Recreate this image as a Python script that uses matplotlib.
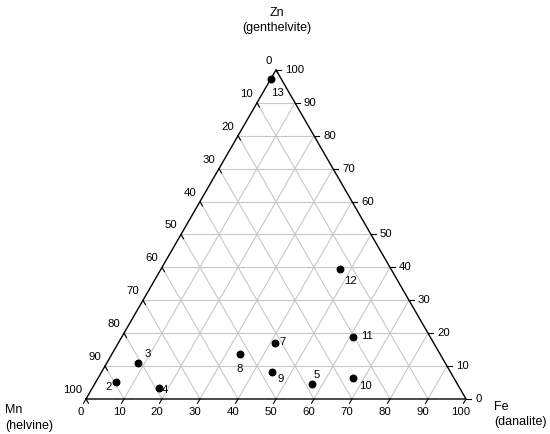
import numpy as np
import matplotlib
matplotlib.use('Agg')
import matplotlib.pyplot as plt

plt.rcParams['font.family'] = ['Liberation Sans', 'DejaVu Sans']

# Sample compositions (mol %)
samples = ['2', '3', '4', '5', '7', '8', '9', '10', '11', '12', '13']
fe = [5.3, 8.2, 17.6, 57.2, 41.2, 33.7, 44.8, 67.1, 60.9, 47.1, 0.0]
zn = [5.2, 10.9, 3.3, 4.6, 17.0, 13.7, 8.2, 6.4, 18.8, 39.5, 97.3]
mn = [89.5, 80.9, 79.1, 38.2, 41.8, 52.6, 47.0, 26.5, 20.3, 13.4, 2.7]

ticks = list(range(0, 101, 10))

# label offsets in pixels (dx right, dy down)
label_off = {'2': (-7, 5), '3': (10, -9), '4': (6, 2), '5': (5, -9), '7': (8, -1),
             '8': (0, 15), '9': (9, 7), '10': (12, 8), '11': (14, -1),
             '12': (10, 12), '13': (7, 14)}

H = np.sqrt(3) / 2


def tern(f, z):
    f = np.asarray(f, dtype=float)
    z = np.asarray(z, dtype=float)
    return f + z / 2, z * H


fig = plt.figure(figsize=(5.5, 4.34), dpi=100)
ax = fig.add_axes([0, 0, 1, 1])
sc = 3.8  # pixels per percent
ax.set_xlim(-86 / sc, (550 - 86) / sc)
ax.set_ylim(-35 / sc, (434 - 35) / sc)
ax.axis('off')

grid_kw = dict(color='#c8c8c8', lw=0.8, zorder=1)
for t in ticks[1:-1]:
    # constant Zn (horizontal)
    x, y = tern([0, 100 - t], [t, t])
    ax.plot(x, y, **grid_kw)
    # constant Fe
    x, y = tern([t, t], [0, 100 - t])
    ax.plot(x, y, **grid_kw)
    # constant Mn
    x, y = tern([100 - t, 0], [0, 100 - t])
    ax.plot(x, y, **grid_kw)

# triangle frame
x, y = tern([0, 100, 0, 0], [0, 0, 100, 0])
ax.plot(x, y, color='black', lw=1.0, zorder=2)

tl = 1.3
tick_kw = dict(color='black', lw=0.8, zorder=2)
fs_tick = 8.2
for t in ticks:
    # bottom axis: Fe
    x, y = tern(t, 0)
    ax.plot([x, x - 0.5 * tl], [y, y - H * tl], **tick_kw)
    ax.annotate(str(t), (x, y), xytext=(-5 * 0.72, -13 * 0.72), textcoords='offset points',
                ha='center', va='center', fontsize=fs_tick)
    # right axis: Zn
    x, y = tern(100 - t, t)
    ax.plot([x, x + tl], [y, y], **tick_kw)
    ax.annotate(str(t), (x, y), xytext=(9 * 0.72, 0), textcoords='offset points',
                ha='left', va='center', fontsize=fs_tick)
    # left axis: Mn
    x, y = tern(0, 100 - t)
    ax.plot([x, x + 0.5 * tl], [y, y - H * tl], **tick_kw)
    ax.annotate(str(t), (x, y), xytext=(-4 * 0.72, 9 * 0.72), textcoords='offset points',
                ha='right', va='center', fontsize=fs_tick)

# data points
px, py = tern(fe, zn)
ax.scatter(px, py, s=22, color='black', zorder=3)
for lab, xx, yy in zip(samples, px, py):
    dx, dy = label_off[lab]
    ax.annotate(lab, (xx, yy), xytext=(dx * 0.72, -dy * 0.72), textcoords='offset points',
                ha='center', va='center', fontsize=fs_tick)

# corner titles
fs_title = 9
fig.text(277 / 550, 1 - 13 / 434, 'Zn', ha='center', va='center', fontsize=fs_title)
fig.text(277 / 550, 1 - 28 / 434, '(genthelvite)', ha='center', va='center', fontsize=fs_title)
fig.text(5 / 550, 1 - 410 / 434, 'Mn', ha='left', va='center', fontsize=fs_title)
fig.text(5 / 550, 1 - 426 / 434, '(helvine)', ha='left', va='center', fontsize=fs_title)
fig.text(494 / 550, 1 - 407 / 434, 'Fe', ha='left', va='center', fontsize=fs_title)
fig.text(494 / 550, 1 - 422 / 434, '(danalite)', ha='left', va='center', fontsize=fs_title)

fig.savefig('out.png', dpi=100)
